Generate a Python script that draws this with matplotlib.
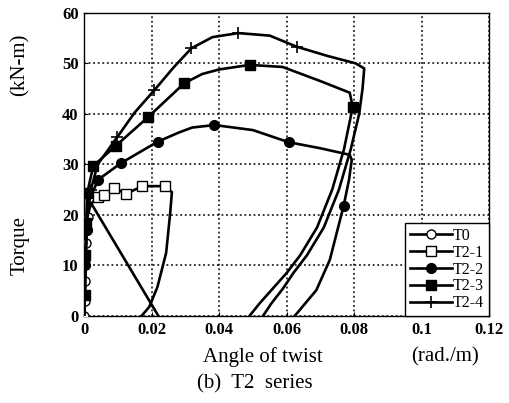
import matplotlib
matplotlib.use("Agg")
import matplotlib.pyplot as plt

plt.rcParams['font.family'] = ['Liberation Serif', 'DejaVu Serif']

# ---- data ----
t0_x = [0, 0.0002, 0.0003, 0.0004, 0.0005, 0.0007, 0.001, 0.002, 0.022]
t0_y = [0, 3, 7, 11, 14.5, 17, 19.5, 22.4, 0]
t0_mark = [0, 1, 2, 3, 4, 5, 6]

t21_x = [0, 0.0003, 0.0006, 0.0012, 0.0025, 0.004, 0.006, 0.0089, 0.0125, 0.0172, 0.024,
         0.026, 0.0255, 0.0243, 0.0217, 0.0193, 0.017]
t21_y = [0, 8, 16, 21, 22.5, 23.5, 24, 25.3, 24.2, 25.7, 25.7,
         24.5, 20.4, 12.5, 5.7, 1.8, 0]
t21_mark = [5, 6, 7, 8, 9, 10]

t22_x = [0, 0.0002, 0.0004, 0.0007, 0.0015, 0.0042, 0.011, 0.0218, 0.028, 0.032, 0.0386, 0.05,
         0.0606, 0.07, 0.0787, 0.0793, 0.0785, 0.0769, 0.0728, 0.0688, 0.0624]
t22_y = [0, 5, 10, 17, 23, 27, 30.3, 34.5, 36.3, 37.3, 37.8, 36.8,
         34.4, 33.2, 31.9, 30.9, 27, 21.8, 11.1, 5.1, 0]
t22_mark = [2, 3, 5, 6, 7, 10, 12, 17]

t23_x = [0, 0.0002, 0.0004, 0.0006, 0.0009, 0.0027, 0.0094, 0.019, 0.0297, 0.035, 0.04, 0.049,
         0.0588, 0.07, 0.0787, 0.0796, 0.077, 0.0735, 0.069, 0.064, 0.06, 0.056, 0.052, 0.049]
t23_y = [0, 4.2, 12, 18.5, 24.3, 29.7, 33.7, 39.4, 46.1, 47.9, 48.8, 49.7,
         49.3, 46.5, 44.2, 41.4, 33, 25, 17.5, 12, 8.5, 5.5, 2.5, 0]
t23_mark = [1, 2, 3, 4, 5, 6, 7, 8, 11, 15]

t24_x = [0, 0.0002, 0.0005, 0.001, 0.002, 0.004, 0.0098, 0.015, 0.0208, 0.0265, 0.0318,
         0.038, 0.0457, 0.055, 0.063, 0.072, 0.0805, 0.083, 0.0825, 0.0815, 0.079, 0.0755,
         0.071, 0.066, 0.062, 0.059, 0.0555, 0.053]
t24_y = [0, 6, 13, 20, 25, 30, 35.4, 40.3, 44.7, 49.2, 53,
         55.2, 56, 55.5, 53.3, 51.5, 50, 49, 45, 40, 33, 25,
         17.5, 12, 8.5, 5.5, 2.5, 0]
t24_mark = [4, 6, 8, 10, 12, 14]

labels = ['T0', 'T2-1', 'T2-2', 'T2-3', 'T2-4']
x_ticks = [0, 0.02, 0.04, 0.06, 0.08, 0.1, 0.12]
x_tick_labels = ['0', '0.02', '0.04', '0.06', '0.08', '0.1', '0.12']
y_ticks = [0, 10, 20, 30, 40, 50, 60]

fig = plt.figure(figsize=(5.10, 4.03), dpi=100)
ax = fig.add_axes([0.165, 0.216, 0.794, 0.752])

series = [
    (t0_x, t0_y, t0_mark, dict(marker='o', mfc='white', ms=6.5)),
    (t21_x, t21_y, t21_mark, dict(marker='s', mfc='white', ms=6.5)),
    (t22_x, t22_y, t22_mark, dict(marker='o', mfc='black', ms=7)),
    (t23_x, t23_y, t23_mark, dict(marker='s', mfc='black', ms=7.5)),
    (t24_x, t24_y, t24_mark, dict(marker='+', ms=9, mew=1.2)),
]
for (xs, ys, mk, style), lab in zip(series, labels):
    ax.plot(xs, ys, color='black', lw=1.9, mec='black', markevery=mk,
            label=lab, zorder=3, **style)

ax.set_xlim(0, 0.12)
ax.set_ylim(0, 60)
ax.set_xticks(x_ticks)
ax.set_xticklabels(x_tick_labels)
ax.set_yticks(y_ticks)
ax.set_axisbelow(True)
ax.grid(True, which='major', color='black', linestyle=(0, (1.2, 1.8)), linewidth=1.1, alpha=1)
ax.tick_params(direction='in', length=3, labelsize=12, pad=4)
for lbl in ax.get_xticklabels() + ax.get_yticklabels():
    lbl.set_fontweight('bold')
for s in ax.spines.values():
    s.set_linewidth(1.0)

leg = ax.legend(loc='lower right', borderaxespad=0, fontsize=11.5, handlelength=2.6,
                labelspacing=0.05, handletextpad=0.1, borderpad=0.3,
                fancybox=False, edgecolor='black', framealpha=1)
leg.get_frame().set_linewidth(1.0)
leg.set_zorder(5)

fig.text(0.04, 0.39, 'Torque', rotation=90, ha='center', va='center', fontsize=15)
fig.text(0.04, 0.84, '(kN-m)', rotation=90, ha='center', va='center', fontsize=15)
fig.text(0.515, 0.114, 'Angle of twist', ha='center', va='center', fontsize=15)
fig.text(0.873, 0.114, '(rad./m)', ha='center', va='center', fontsize=15)
fig.text(0.50, 0.048, '(b)  T2  series', ha='center', va='center', fontsize=15)

fig.savefig('out.png', dpi=100)
